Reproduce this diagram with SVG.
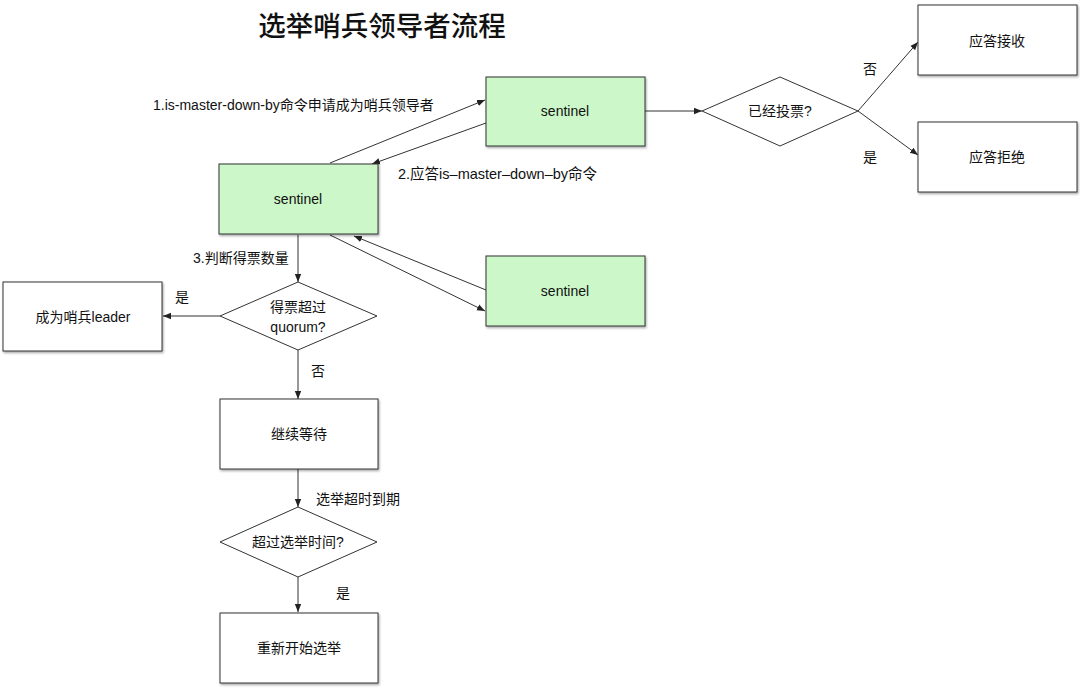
<svg xmlns="http://www.w3.org/2000/svg" width="1080" height="688" viewBox="0 0 1080 688">
<defs>
<filter id="sh" x="-10%" y="-10%" width="130%" height="130%">
<feDropShadow dx="1" dy="1.5" stdDeviation="1" flood-color="#000" flood-opacity="0.35"/>
</filter>
<marker id="ah" viewBox="0 0 10 10" refX="10" refY="5" markerWidth="8" markerHeight="8" markerUnits="userSpaceOnUse" orient="auto">
<path d="M0,1 L10,5 L0,9 z" fill="#222"/>
</marker>
</defs>
<style>
.box{fill:#fff;stroke:#333;stroke-width:1;filter:url(#sh)}
.green{fill:#ccf7c8}
.dia{fill:#fff;stroke:#333;stroke-width:1}
.t{font-family:"Liberation Sans","Noto Sans CJK SC",sans-serif;font-size:14px;fill:#111;text-anchor:middle;dominant-baseline:central}
.l{font-family:"Liberation Sans","Noto Sans CJK SC",sans-serif;font-size:14px;fill:#111;dominant-baseline:central}
.c{fill:none;stroke:#333;stroke-width:1;marker-end:url(#ah)}
</style>
<rect width="1080" height="688" fill="#fff"/>
<text id="title" x="382" y="24" class="t" style="font-family:'Noto Sans CJK SC',sans-serif;font-size:27.5px;font-weight:500">选举哨兵领导者流程</text>

<g id="connectors">
<line class="c" x1="330" y1="163" x2="485" y2="100"/>
<line class="c" x1="486" y1="123" x2="372" y2="164"/>
<line class="c" x1="330" y1="235" x2="485" y2="311"/>
<line class="c" x1="486" y1="290" x2="354" y2="236"/>
<line class="c" x1="645" y1="111" x2="702" y2="111"/>
<line class="c" x1="858" y1="111" x2="918" y2="42"/>
<line class="c" x1="858" y1="111" x2="918" y2="155"/>
<line class="c" x1="298" y1="235" x2="298" y2="282"/>
<line class="c" x1="220" y1="316" x2="163" y2="316"/>
<line class="c" x1="298" y1="350" x2="298" y2="399"/>
<line class="c" x1="298" y1="469" x2="298" y2="507"/>
<line class="c" x1="298" y1="577" x2="298" y2="612"/>
</g>
<g id="labels">
<text class="l" x="153" y="105">1.is-master-down-by命令申请成为哨兵领导者</text>
<text class="l" x="398" y="174" style="font-size:14.5px">2.应答is–master–down–by命令</text>
<text class="l" x="193" y="258">3.判断得票数量</text>
<text class="t" x="870" y="69">否</text>
<text class="t" x="870" y="157">是</text>
<text class="t" x="182" y="297">是</text>
<text class="t" x="318" y="371">否</text>
<text class="l" x="316" y="499">选举超时到期</text>
<text class="t" x="343" y="593">是</text>
</g>

<g id="sentinel-top">
<rect class="box green" x="486" y="77" width="159" height="69"/>
<text class="t" x="565" y="111">sentinel</text>
</g>
<g id="sentinel-mid">
<rect class="box green" x="219" y="164" width="159" height="70"/>
<text class="t" x="298" y="199">sentinel</text>
</g>
<g id="sentinel-bottom">
<rect class="box green" x="486" y="256" width="159" height="70"/>
<text class="t" x="565" y="291">sentinel</text>
</g>
<g id="voted">
<polygon class="dia" points="702,111 780,77 858,111 780,146"/>
<text class="t" x="780" y="111">已经投票?</text>
</g>
<g id="accept">
<rect class="box" x="918" y="5" width="159" height="70"/>
<text class="t" x="997" y="41">应答接收</text>
</g>
<g id="reject">
<rect class="box" x="918" y="122" width="159" height="70"/>
<text class="t" x="997" y="157">应答拒绝</text>
</g>
<g id="quorum">
<polygon class="dia" points="220,316 298,282 377,316 298,350"/>
<text class="t" x="298" y="307">得票超过</text>
<text class="t" x="298" y="327">quorum?</text>
</g>
<g id="leader">
<rect class="box" x="3" y="282" width="159" height="69"/>
<text class="t" x="83" y="317">成为哨兵leader</text>
</g>
<g id="wait">
<rect class="box" x="220" y="399" width="158" height="70"/>
<text class="t" x="299" y="434">继续等待</text>
</g>
<g id="timeout">
<polygon class="dia" points="220,542 298,507 377,542 298,577"/>
<text class="t" x="298" y="542">超过选举时间?</text>
</g>
<g id="restart">
<rect class="box" x="220" y="613" width="158" height="70"/>
<text class="t" x="299" y="648">重新开始选举</text>
</g>
</svg>
